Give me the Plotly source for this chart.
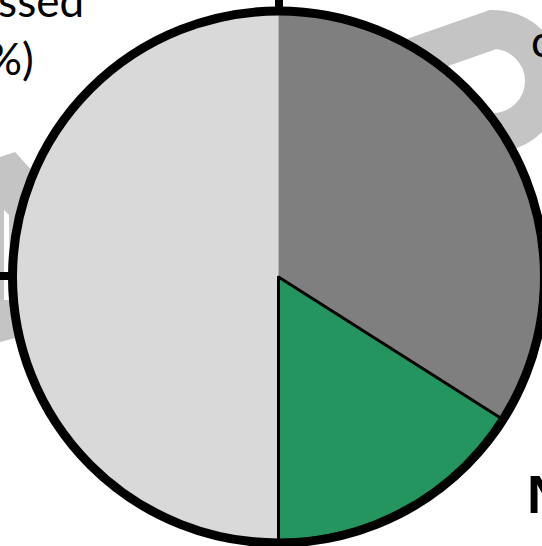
import plotly.graph_objects as go

W, H = 542, 546

# Data
labels = ["Other", "Not processed", "Missed"]
values = [50, 34, 16]
colors = ["#d9d9d9", "#7f7f7f", "#24955f"]
edge_widths = [0, 0, 3]

def px(x, y):
    return x / W, 1 - y / H

def path(cmds):
    out = []
    for c in cmds:
        if isinstance(c, str):
            out.append(c)
        else:
            x, y = px(*c)
            out.append(f"{x:.5f},{y:.5f}")
    return " ".join(out)

cx, cy, r = 278.5, 277, 263.5

fig = go.Figure(go.Pie(
    labels=labels, values=values, sort=False,
    direction="clockwise", rotation=180,
    marker=dict(colors=colors, line=dict(color="black", width=edge_widths)),
    textinfo="none", hoverinfo="label+percent",
    domain=dict(x=[(cx - r) / W, 1.0], y=[(H - cy - r) / H, (H - cy + r) / H]),
    showlegend=False,
))

band = "#c4c4c4"
shapes = []
# curved grey band (top right)
shapes.append(dict(type="path", layer="below", xref="paper", yref="paper",
    path=path(["M", (360, 76), "L", (493, 29.5),
               "C", (521.4, 29.5), (544.5, 52.6), (544.5, 81),
               "C", (544.5, 109.4), (521.4, 132.5), (493, 132.5),
               "L", (440, 150)]),
    line=dict(color=band, width=39), fillcolor="rgba(0,0,0,0)"))
# grey arrow piece (left)
shapes.append(dict(type="path", layer="below", xref="paper", yref="paper",
    path=path(["M", (0, 157), "L", (15, 152), "L", (45, 185), "L", (45, 330),
               "L", (0, 342), "Z"]),
    line=dict(width=0), fillcolor=band))
shapes.append(dict(type="path", layer="below", xref="paper", yref="paper",
    path=path(["M", (4, 210), "L", (9, 215), "L", (10, 300), "L", (4, 300), "Z"]),
    line=dict(width=0), fillcolor="white"))
# connector ticks
x0, y0 = px(279, -2); x1, y1 = px(279, 12)
shapes.append(dict(type="line", xref="paper", yref="paper", x0=x0, y0=y0, x1=x1, y1=y1,
                   line=dict(color="black", width=8)))
x0, y0 = px(-2, 276); x1, y1 = px(14, 276)
shapes.append(dict(type="line", xref="paper", yref="paper", x0=x0, y0=y0, x1=x1, y1=y1,
                   line=dict(color="black", width=8)))
# thick outer ring
shapes.append(dict(type="circle", xref="paper", yref="paper",
    x0=(cx - 266) / W, x1=(cx + 266) / W, y0=1 - (cy + 266) / H, y1=1 - (cy - 266) / H,
    line=dict(color="black", width=9)))

fnt = "Lato, Carlito, Calibri, sans-serif"
ann = []
ax, ay = px(86, 0)
ann.append(dict(text="Missed", x=ax, y=ay, xref="paper", yref="paper", xanchor="right",
                yanchor="middle", showarrow=False, font=dict(family=fnt, size=44, color="black")))
ax, ay = px(36, 58)
ann.append(dict(text="(50%)", x=ax, y=ay, xref="paper", yref="paper", xanchor="right",
                yanchor="middle", showarrow=False, font=dict(family=fnt, size=44, color="black")))
ax, ay = px(529, 40)
ann.append(dict(text="co", x=ax, y=ay, xref="paper", yref="paper", xanchor="left",
                yanchor="middle", showarrow=False, font=dict(family=fnt, size=44, color="black")))
ax, ay = px(525, 494)
ann.append(dict(text="<b>N</b>", x=ax, y=ay, xref="paper", yref="paper", xanchor="left",
                yanchor="middle", showarrow=False,
                font=dict(family="Liberation Sans, Arial, sans-serif", size=54, color="black")))

fig.update_layout(width=W, height=H, margin=dict(l=0, r=0, t=0, b=0),
                  paper_bgcolor="white", plot_bgcolor="white",
                  shapes=shapes, annotations=ann)

fig.write_html("out.html")
